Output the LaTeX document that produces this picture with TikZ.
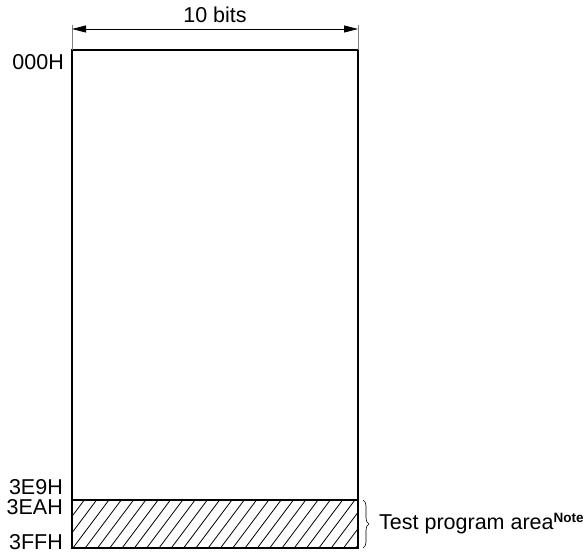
\documentclass[tikz,border=0pt]{standalone}
\usepackage{fontspec}
\setmainfont{Liberation Sans}
\usetikzlibrary{arrows.meta, positioning, calc, decorations.pathreplacing}
\tikzset{
  memline/.style={line width=2.4pt, color=black},
  hatchline/.style={line width=0.8pt, color=black},
  dimline/.style={{Triangle[length=14pt,width=7pt]}-{Triangle[length=14pt,width=7pt]}, line width=0.8pt},
  extline/.style={line width=0.6pt, color=gray},
  addr/.style={anchor=east, inner sep=0pt, font=\fontsize{21.5}{25}\selectfont},
  lbl/.style={inner sep=0pt, font=\fontsize{21.5}{25}\selectfont}
}

\begin{document}
\begin{tikzpicture}[x=1pt, y=-1pt]
  \useasboundingbox (0,0) rectangle (586,554);

  % memory map outline
  \coordinate (topleft) at (72,50);
  \coordinate (topright) at (358,50);
  \coordinate (sepleft) at (72,500);
  \coordinate (sepright) at (358,500);
  \coordinate (botleft) at (72,548);
  \coordinate (botright) at (358,548);

  % hatched test program area
  \begin{scope}
    \clip (sepleft) rectangle (botright);
    \foreach \i in {0,...,30}
      \draw[hatchline] ({36+\i*12.3},548) -- ++(36,-48);
  \end{scope}

  \draw[memline] (topleft) rectangle (botright);
  \draw[memline] (sepleft) -- (sepright);

  % width dimension
  \coordinate (extleft) at (72,25);
  \coordinate (extright) at (358,25);
  \draw[extline] (extleft) -- (topleft);
  \draw[extline] (extright) -- (topright);
  \coordinate (dimleft) at (72,29);
  \coordinate (dimright) at (358,29);
  \draw[dimline] (dimleft) -- (dimright);
  \node[lbl] (width) at (215,15) {10 bits};

  % addresses
  \node[addr] (a000) at (64,62) {000H};
  \node[addr] (a3e9) at (63,487) {3E9H};
  \node[addr] (a3ea) at (63,507) {3EAH};
  \node[addr] (a3ff) at (63,542) {3FFH};

  % test program area label
  \coordinate (bracetop) at (363,500);
  \coordinate (bracebot) at (363,548);
  \draw[line width=0.6pt, decorate, decoration={brace, amplitude=6pt}] (bracetop) -- (bracebot);
  \node[lbl, anchor=west] (testarea) at (379,524)
    {Test program area\raisebox{7pt}{\fontsize{13.5}{16}\selectfont\bfseries Note}};
\end{tikzpicture}
\end{document}
